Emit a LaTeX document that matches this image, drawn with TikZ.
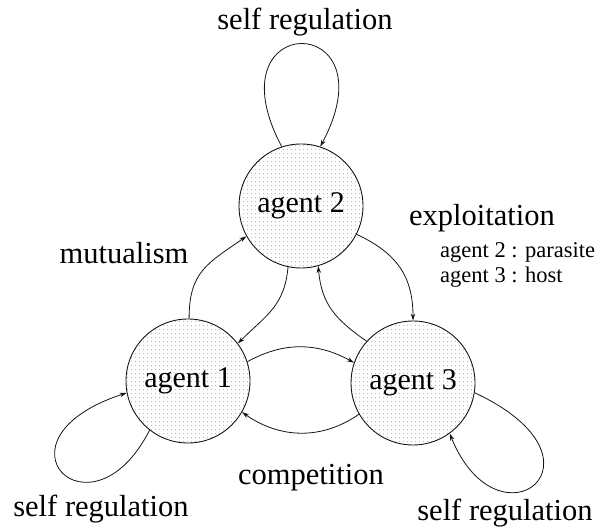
\documentclass[tikz,border=0pt]{standalone}
\usepackage{fontspec}
\setmainfont{Liberation Serif}
\usepackage{tikz}
\usetikzlibrary{arrows.meta, patterns.meta}
\definecolor{mydark}{RGB}{20,20,20}
\definecolor{mydot}{RGB}{130,130,130}
\tikzset{
  agentcirc/.style={circle, draw=mydark, line width=0.9pt,
    minimum size=124pt, inner sep=0pt,
    pattern={Dots[distance=4pt, radius=0.5pt]}, pattern color=mydot,
    font=\fontsize{30}{34}\selectfont},
  biglbl/.style={font=\fontsize{30.5}{34}\selectfont, inner sep=0pt},
  smalllbl/.style={font=\fontsize{22.5}{25}\selectfont, inner sep=0pt, anchor=west},
  arrow/.style={-{Stealth[length=7pt, width=4.5pt]}, line width=0.8pt, color=mydark}
}

\begin{document}
\begin{tikzpicture}[x=1pt, y=1pt]
  \useasboundingbox (0,0) rectangle (596,529);
  \node[agentcirc] (a2) at (301,323) {agent 2};
  \node[agentcirc] (a1) at (188,148) {agent 1};
  \node[agentcirc] (a3) at (413,146) {agent 3};

  \node[biglbl] (selftop) at (305,507) {self regulation};
  \node[biglbl] (selfleft) at (101,20) {self regulation};
  \node[biglbl] (selfright) at (505,16) {self regulation};
  \node[biglbl] (mutual) at (124,276) {mutualism};
  \node[biglbl] (compet) at (311,51) {competition};
  \node[biglbl] (exploit) at (482,311) {exploitation};
  \node[smalllbl] (parasite) at (440,277) {agent 2 : parasite};
  \node[smalllbl] (host) at (440,252) {agent 3 : host};

  % self regulation loops
  \draw[arrow] (a2.108) .. controls +(118:155) and +(62:155) .. (a2.72);
  \draw[arrow] (a1.232) .. controls +(243:130) and +(198:150) .. (a1.191);
  \draw[arrow] (a3.-9) .. controls +(-25:160) and +(-68:130) .. (a3.-54);

  % mutualism
  \draw[arrow] (a1.89) to[out=90, in=215, looseness=1.2] (a2.209);
  \draw[arrow] (a2.258) to[out=265, in=45, looseness=1.1] (a1.37);
  % exploitation
  \draw[arrow] (a2.-27) to[out=-25, in=90, looseness=1.1] (a3.90);
  \draw[arrow] (a3.138) to[out=145, in=275, looseness=1.1] (a2.286);
  % competition
  \draw[arrow] (a1.18) to[out=29, in=151] (a3.161);
  \draw[arrow] (a3.210) to[out=215, in=-35] (a1.-30);
\end{tikzpicture}
\end{document}
